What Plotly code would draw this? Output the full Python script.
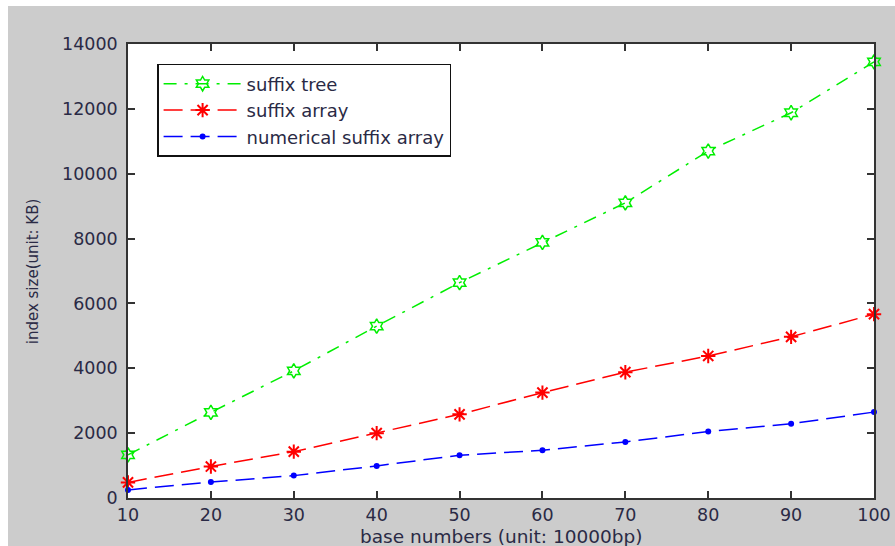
import plotly.graph_objects as go

x_vals = [10, 20, 30, 40, 50, 60, 70, 80, 90, 100]
suffix_tree = [1330, 2640, 3920, 5300, 6640, 7880, 9100, 10700, 11880, 13450]
suffix_array = [480, 970, 1430, 2000, 2580, 3250, 3880, 4380, 4970, 5670]
numerical_suffix_array = [250, 490, 690, 990, 1320, 1470, 1730, 2050, 2290, 2650]

x_ticks = [10, 20, 30, 40, 50, 60, 70, 80, 90, 100]
y_ticks = [0, 2000, 4000, 6000, 8000, 10000, 12000, 14000]

x_title = "base numbers (unit: 10000bp)"
y_title = "index size(unit: KB)"

txt = "#2a2a45"
wide = "DejaVu Sans, Verdana, sans-serif"

fig = go.Figure()
fig.add_trace(go.Scatter(
    x=x_vals, y=suffix_tree, name="suffix tree", mode="lines+markers",
    line=dict(color="#00ee00", width=1.5, dash="13px,8px,3px,8px"),
    marker=dict(symbol="hexagram-open", size=11, color="#00ee00", line=dict(width=1.5, color="#00ee00")),
    cliponaxis=False))
fig.add_trace(go.Scatter(
    x=x_vals, y=suffix_array, name="suffix array", mode="lines+markers",
    line=dict(color="#ff0000", width=1.5, dash="19px,8px"),
    marker=dict(symbol="asterisk-open", size=12, color="#ff0000", line=dict(width=2, color="#ff0000")),
    cliponaxis=False))
fig.add_trace(go.Scatter(
    x=x_vals, y=numerical_suffix_array, name="numerical suffix array", mode="lines+markers",
    line=dict(color="#0000ff", width=1.5, dash="19px,8px"),
    marker=dict(symbol="circle", size=6, color="#0000ff"),
    cliponaxis=False))

axis_common = dict(
    showline=True, linecolor="#333333", linewidth=1.5, mirror="ticks",
    ticks="inside", ticklen=7, tickwidth=1.5, tickcolor="#333333",
    showgrid=False, zeroline=False, automargin=False,
    tickfont=dict(family=wide, size=17.5, color=txt),
)

fig.update_xaxes(range=[10, 100], tickvals=x_ticks, ticktext=[str(v) for v in x_ticks], **axis_common)
fig.update_yaxes(range=[0, 14000], tickvals=y_ticks, ticktext=[str(v) for v in y_ticks],
                 ticklabelstandoff=5, **axis_common)

fig.update_layout(
    width=887, height=540,
    margin=dict(l=120, r=21, t=38, b=48),
    paper_bgcolor="#cccccc", plot_bgcolor="white",
    showlegend=True,
    legend=dict(x=0.039, y=0.956, xanchor="left", yanchor="top",
                bgcolor="white", bordercolor="#111111", borderwidth=1.5,
                font=dict(family=wide, size=18, color=txt), itemwidth=78,
                tracegroupgap=0),
    annotations=[
        dict(text=x_title, xref="paper", yref="paper", x=0.5, y=-0.084,
             xanchor="center", yanchor="middle", showarrow=False,
             font=dict(family=wide, size=18.5, color=txt)),
        dict(text=y_title, xref="paper", yref="paper", x=-0.127, y=0.5,
             xanchor="center", yanchor="middle", showarrow=False, textangle=-90,
             font=dict(family=wide, size=15, color=txt)),
    ],
)

fig.write_html("out.html", post_script="document.body.style.margin='6px 0 0 8px';")
